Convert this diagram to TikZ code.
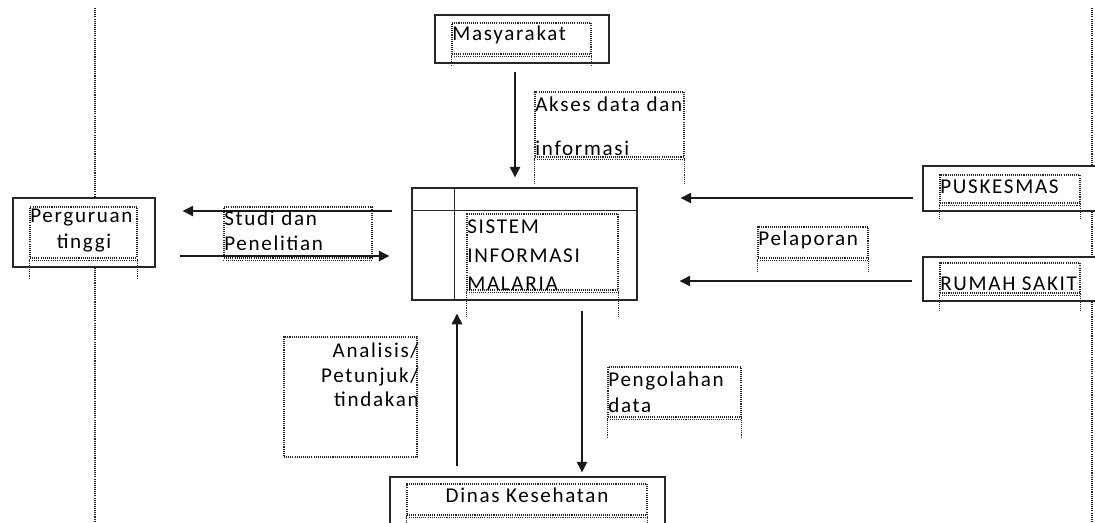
\documentclass[tikz,border=0pt]{standalone}
\usepackage{fontspec}
\setmainfont{Carlito}[LetterSpace=8]
\usetikzlibrary{calc,fit,arrows.meta}
\tikzset{box/.style={draw=black!85,line width=0.8pt,inner sep=0pt},
  tbox/.style={draw=black!85,line width=0.65pt,dash pattern=on 0.6pt off 0.6pt,inner sep=0pt},
  flow/.style={draw=black!90,line width=0.75pt,-{Triangle[length=6pt,width=6pt]}},
  lbl/.style={anchor=base west,inner sep=0pt,text=black,font=\fontsize{12}{14}\selectfont}}

\begin{document}
\begin{tikzpicture}[x=0.02cm,y=-0.02cm]
\useasboundingbox (0,0) rectangle (1095,522);
\clip (0,0) rectangle (1095,522);

% Entities
\node[box, fit={(435,15) (609,63)}]   (masy)  {};
\node[box, fit={(13,198) (155,267)}]  (pt)    {};
\node[box, fit={(412,188) (637,300)}] (sis)   {};
\node[box, fit={(923,166) (1100,211)}] (pusk) {};
\node[box, fit={(923,257) (1100,301)}] (rs)   {};
\node[box, fit={(390,477) (665,530)}] (dinas) {};

% Process box dividers
\draw[box] ($(sis.north west)+(0,23)$) -- ($(sis.north east)+(0,23)$);
\draw[box] ($(sis.north west)+(43,0)$) -- ($(sis.south west)+(43,0)$);

% Lifelines
\coordinate (topL) at (95,8);
\coordinate (topR) at (1092,8);
\draw[tbox] (topL) -- (topL |- pt.north);
\draw[tbox] (topL |- pt.south) -- (95,522);
\draw[tbox] (topR) -- (topR |- pusk.north);
\draw[tbox] (topR |- pusk.south) -- (topR |- rs.north);
\draw[tbox] (topR |- rs.south) -- (1092,522);

% Text frames
\node[tbox, fit={(452,23) (591,54)}]   (masyT)  {};
\node[tbox, fit={(535,92) (684,157)}]  (aksesT) {};
\node[tbox, fit={(467,214) (618,290)}] (sisT)   {};
\node[tbox, fit={(30,207) (137,258)}]  (ptT)    {};
\node[tbox, fit={(224,207) (372,258)}] (studiT) {};
\node[tbox, fit={(940,175) (1080,203)}] (puskT) {};
\node[tbox, fit={(940,263) (1080,293)}] (rsT)   {};
\node[tbox, fit={(758,227) (868,258)}] (lapT)   {};
\node[tbox, fit={(284,337) (417,457)}] (anaT)   {};
\node[tbox, fit={(608,367) (741,417)}] (olahT)  {};
\node[tbox, fit={(407,484) (647,515)}] (dinasT) {};

% Frame bottoms
\foreach \f in {masyT,aksesT,sisT,ptT,studiT,puskT,rsT,lapT,olahT,dinasT}
  \draw[tbox] ($(\f.south west)+(0,1.5)$) -- ($(\f.south east)+(0,1.5)$);

% Frame legs
\foreach \f/\l in {masyT/12,aksesT/26,sisT/26,ptT/20,puskT/15,rsT/17,lapT/14,olahT/20,dinasT/20} {
  \draw[tbox] (\f.south west) -- ++(0,\l);
  \draw[tbox] (\f.south east) -- ++(0,\l);
}

% Flows
\coordinate (a1) at (515,72);
\coordinate (a2) at (392,211);
\coordinate (a3) at (180,256);
\coordinate (a4) at (913,198);
\coordinate (a5) at (912,281);
\coordinate (a6) at (457,466);
\coordinate (a7) at (582,311);
\draw[flow, shorten >=0.2cm]  (a1) -- (a1 |- sis.north);
\draw[flow, shorten >=0.54cm] (a2) -- (a2 -| pt.east);
\draw[flow, shorten >=0.44cm] (a3) -- (a3 -| sis.west);
\draw[flow, shorten >=0.86cm] (a4) -- (a4 -| sis.east);
\draw[flow, shorten >=0.84cm] (a5) -- (a5 -| sis.east);
\draw[flow, shorten >=0.26cm] (a6) -- (a6 |- sis.south);
\draw[flow, shorten >=0.08cm] (a7) -- (a7 |- dinas.north);

% Labels
\node[lbl] (masy-1) at (452,40) {Masyarakat};
\node[lbl] (akses-1) at (535,111) {Akses data dan};
\node[lbl] (akses-2) at (535,155) {informasi};
\node[lbl] (sis-1) at (467,233) {SISTEM};
\node[lbl] (sis-2) at (467,262) {INFORMASI};
\node[lbl] (sis-3) at (467,290) {MALARIA};
\node[lbl] (pt-1) at (30,222) {Perguruan};
\node[lbl, anchor=base] (pt-2) at (84,248) {tinggi};
\node[lbl] (studi-1) at (224,225) {Studi dan};
\node[lbl] (studi-2) at (224,250) {Penelitian};
\node[lbl] (pusk-1) at (940,193) {PUSKESMAS};
\node[lbl] (rs-1) at (940,290) {RUMAH SAKIT};
\node[lbl] (lap-1) at (758,245) {Pelaporan};
\node[lbl, anchor=base east] (ana-1) at (419,357) {Analisis/};
\node[lbl, anchor=base east] (ana-2) at (419,382) {Petunjuk/};
\node[lbl, anchor=base east] (ana-3) at (419,406) {tindakan};
\node[lbl] (olah-1) at (608,386) {Pengolahan};
\node[lbl] (olah-2) at (608,412) {data};
\node[lbl, anchor=base] (dinas-1) at (527,502) {Dinas Kesehatan};

\end{tikzpicture}
\end{document}
